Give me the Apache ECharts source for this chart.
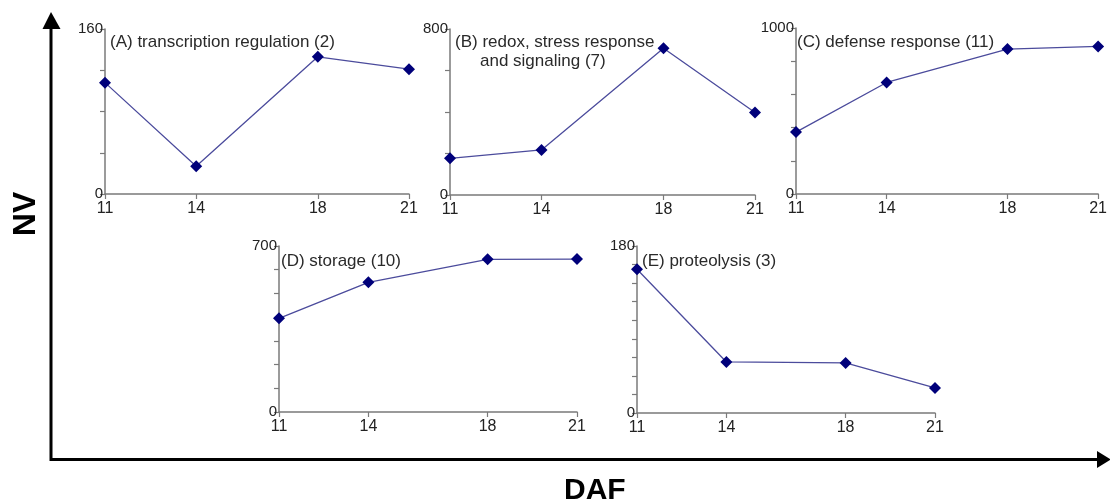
<!DOCTYPE html>
<html>
<head>
<meta charset="utf-8">
<script src="https://cdn.jsdelivr.net/npm/echarts@6/dist/echarts.min.js"></script>
<style>
  html, body { margin: 0; padding: 0; background: #fff; }
  #chart { width: 1110px; height: 501px; }
</style>
</head>
<body>
<div id="chart"></div>
<script>
// days after flowering
const days = [11, 14, 18, 21];
const dayTicks = [11, 14, 18, 21];

// NV per functional class
const transcription = [108, 27, 133, 121];
const redox = [177, 217, 707, 398];
const defense = [373, 672, 873, 889];
const storage = [395, 547, 644, 645];
const proteolysis = [155, 55, 54, 27];

const yMax = [160, 800, 1000, 700, 180];
const yStep = [40, 200, 200, 100, 20];

let chart = echarts.init(document.getElementById('chart'));

const font = 'Liberation Sans, Arial, sans-serif';
const axisColor = '#7a7a7a';

// panel boxes
const grids = [
    { left: 105, top: 29, width: 304, height: 165 },
    { left: 450, top: 29, width: 305, height: 166 },
    { left: 796, top: 28, width: 306, height: 166 },
    { left: 279, top: 246, width: 298, height: 166 },
    { left: 637, top: 246, width: 298, height: 167 }
];

const seriesData = [transcription, redox, defense, storage, proteolysis];

let xAxes = [], yAxes = [], series = [];
grids.forEach((g, i) => {
    xAxes.push({
        gridIndex: i,
        type: 'value',
        min: 11,
        max: 21,
        interval: 1,
        axisLine: { lineStyle: { color: axisColor, width: 1.5 } },
        axisTick: { customValues: dayTicks, length: 5, lineStyle: { color: axisColor, width: 1.2 } },
        axisLabel: { customValues: dayTicks, color: '#222', fontSize: 16, fontFamily: font, margin: 7 },
        splitLine: { show: false }
    });
    yAxes.push({
        gridIndex: i,
        type: 'value',
        min: 0,
        max: yMax[i],
        interval: yStep[i],
        axisLine: { show: true, lineStyle: { color: axisColor, width: 1.5 } },
        axisTick: { show: true, length: 5, lineStyle: { color: axisColor, width: 1.2 } },
        axisLabel: { customValues: [0, yMax[i]], formatter: v => String(v),
                     color: '#222', fontSize: 15, fontFamily: font, margin: 2 },
        splitLine: { show: false }
    });
    series.push({
        type: 'line',
        xAxisIndex: i,
        yAxisIndex: i,
        data: days.map((d, k) => [d, seriesData[i][k]]),
        symbol: 'diamond',
        symbolSize: 12,
        itemStyle: { color: '#00007a' },
        lineStyle: { color: '#4b4b9c', width: 1.3 },
        animation: false
    });
});

const titleStyle = { color: '#2a2a2a', fontSize: 17, fontWeight: 'normal', fontFamily: font };
const titles = [
    { text: '(A) transcription regulation (2)', left: 110, top: 34 },
    { text: '(B) redox, stress response', left: 455, top: 34 },
    { text: 'and signaling (7)', left: 480, top: 53 },
    { text: '(C) defense response (11)', left: 797, top: 34 },
    { text: '(D) storage (10)', left: 281, top: 253 },
    { text: '(E) proteolysis (3)', left: 642, top: 253 }
].map(t => Object.assign({ padding: 0, textStyle: titleStyle }, t));

let option = {
    backgroundColor: '#fff',
    title: titles,
    grid: grids,
    xAxis: xAxes,
    yAxis: yAxes,
    series: series,
    graphic: [
        // big outer axes
        { type: 'polyline', shape: { points: [[51, 28], [51, 459.5], [1099, 459.5]] },
          style: { stroke: '#000', lineWidth: 3, fill: null } },
        { type: 'polygon', shape: { points: [[42.5, 29], [60.5, 29], [51, 12]] }, style: { fill: '#000' } },
        { type: 'polygon', shape: { points: [[1097, 451], [1097, 468], [1111, 459.5]] }, style: { fill: '#000' } },
        { type: 'text', left: 564, top: 476,
          style: { text: 'DAF', fontSize: 30, fontWeight: 'bold', fontFamily: font, fill: '#000' } },
        { type: 'text', x: 26, y: 214, rotation: Math.PI / 2,
          style: { text: 'NV', fontSize: 32, fontWeight: 'bold', fontFamily: font, fill: '#000',
                   align: 'center', verticalAlign: 'middle' } }
    ]
};

chart.setOption(option);
</script>
</body>
</html>
